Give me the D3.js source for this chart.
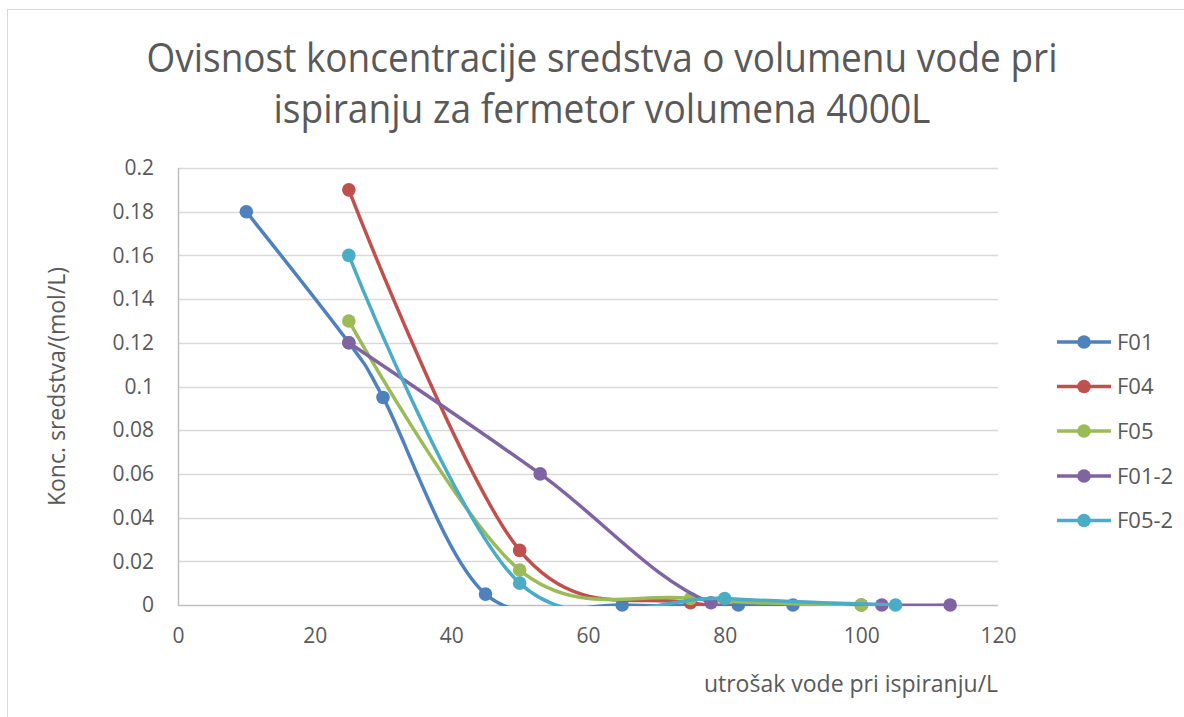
<!DOCTYPE html>
<html>
<head>
<meta charset="utf-8">
<script src="https://cdn.jsdelivr.net/npm/d3@7"></script>
<style>
  html, body { margin: 0; padding: 0; background: #ffffff; }
  svg { display: block; }
  text { font-family: "Open Sans", "Liberation Sans", sans-serif; fill: #595959; }
</style>
</head>
<body>
<svg id="chart" width="1184" height="717"></svg>
<script>
// ---- data ----
const titleLines = ["Ovisnost koncentracije sredstva o volumenu vode pri", "ispiranju za fermetor volumena 4000L"];
const xTitle = "utrošak vode pri ispiranju/L";
const yTitle = "Konc. sredstva/(mol/L)";
const seriesNames = ["F01", "F04", "F05", "F01-2", "F05-2"];
const seriesColors = ["#4F81BD", "#C0504D", "#9BBB59", "#8064A2", "#4BACC6"];
const f01X = [10, 25, 30, 45, 65, 82, 90];
const f01Y = [0.18, 0.12, 0.095, 0.005, 0, 0, 0];
const f04X = [25, 50, 75, 100];
const f04Y = [0.19, 0.025, 0.001, 0];
const f05X = [25, 50, 75, 100];
const f05Y = [0.13, 0.016, 0.003, 0];
const f012X = [25, 53, 78, 103, 113];
const f012Y = [0.12, 0.06, 0.001, 0, 0];
const f052X = [25, 50, 80, 105];
const f052Y = [0.16, 0.01, 0.003, 0];
const xTicks = [0, 20, 40, 60, 80, 100, 120];
const yTicks = [0, 0.02, 0.04, 0.06, 0.08, 0.1, 0.12, 0.14, 0.16, 0.18, 0.2];
const yTickLabels = ["0", "0.02", "0.04", "0.06", "0.08", "0.1", "0.12", "0.14", "0.16", "0.18", "0.2"];

const seriesX = [f01X, f04X, f05X, f012X, f052X];
const seriesY = [f01Y, f04Y, f05Y, f012Y, f052Y];
const series = seriesNames.map((n, i) => ({
  name: n, color: seriesColors[i],
  pts: seriesX[i].map((x, j) => ({ x: x, y: seriesY[i][j] }))
}));

// ---- layout ----
const svg = d3.select("#chart");
const plot = { left: 178, right: 998, top: 168, bottom: 605 };

// outer chart border
svg.append("rect").attr("x", 7.5).attr("y", 9.5).attr("width", 1200).attr("height", 720)
  .attr("fill", "#ffffff").attr("stroke", "#d9d9d9").attr("stroke-width", 1);

const x = d3.scaleLinear().domain([0, 120]).range([plot.left, plot.right]);
const y = d3.scaleLinear().domain([0, 0.2]).range([plot.bottom, plot.top]);

// gridlines
svg.append("g").selectAll("line").data(yTicks.filter(d => d > 0)).join("line")
  .attr("x1", plot.left).attr("x2", plot.right)
  .attr("y1", d => Math.round(y(d)) + 0.5).attr("y2", d => Math.round(y(d)) + 0.5)
  .attr("stroke", "#d9d9d9").attr("stroke-width", 1.5);

// axes lines
svg.append("line").attr("x1", plot.left + 0.5).attr("x2", plot.left + 0.5)
  .attr("y1", Math.round(y(0.2))).attr("y2", plot.bottom + 0.5)
  .attr("stroke", "#bfbfbf").attr("stroke-width", 1.5);
svg.append("line").attr("x1", plot.left).attr("x2", plot.right)
  .attr("y1", plot.bottom + 0.5).attr("y2", plot.bottom + 0.5)
  .attr("stroke", "#bfbfbf").attr("stroke-width", 1.5);

// tick labels via d3 axes (domain/ticks hidden)
const yAxis = d3.axisLeft(y).tickValues(yTicks).tickSize(0).tickPadding(0)
  .tickFormat((d, i) => yTickLabels[i]);
const gy = svg.append("g").attr("transform", `translate(${plot.left - 24},0)`).call(yAxis);
gy.select(".domain").remove();
gy.selectAll("text").style("font-family", '"Open Sans", sans-serif').style("font-size", "21px")
  .attr("fill", "#595959");

const xAxis = d3.axisBottom(x).tickValues(xTicks).tickSize(0).tickPadding(0).tickFormat(d3.format("d"));
const gx = svg.append("g").attr("transform", `translate(0,${plot.bottom + 23})`).call(xAxis);
gx.select(".domain").remove();
gx.selectAll("text").style("font-family", '"Open Sans", sans-serif').style("font-size", "21px")
  .attr("fill", "#595959");

// clip for lines
svg.append("clipPath").attr("id", "plotclip").append("rect")
  .attr("x", plot.left - 20).attr("y", plot.top - 30)
  .attr("width", plot.right - plot.left + 40).attr("height", plot.bottom - plot.top + 31);

const line = d3.line().x(d => x(d.x)).y(d => y(d.y)).curve(d3.curveCardinal.tension(0));

const gs = svg.append("g");
series.forEach(s => {
  gs.append("path").datum(s.pts).attr("d", line)
    .attr("fill", "none").attr("stroke", s.color).attr("stroke-width", 3.5)
    .attr("stroke-linejoin", "round").attr("clip-path", "url(#plotclip)");
  gs.append("g").selectAll("circle").data(s.pts).join("circle")
    .attr("cx", d => x(d.x)).attr("cy", d => y(d.y)).attr("r", 6.8)
    .attr("fill", s.color);
});

// title
svg.append("g").selectAll("text").data(titleLines).join("text")
  .attr("x", 602).attr("y", (d, i) => 72 + i * 51)
  .attr("text-anchor", "middle")
  .style("font-size", "40px")
  .attr("textLength", (d, i) => i === 0 ? 911 : 657)
  .attr("lengthAdjust", "spacingAndGlyphs")
  .text(d => d);

// axis titles
svg.append("text").attr("x", 851).attr("y", 692).attr("text-anchor", "middle")
  .style("font-size", "23px").text(xTitle);
svg.append("text").attr("transform", `translate(65,${(plot.top + plot.bottom) / 2}) rotate(-90)`)
  .attr("text-anchor", "middle").style("font-size", "23px").text(yTitle);

// legend
const legY = [342, 386.5, 431, 476, 520.5];
const leg = svg.append("g").selectAll("g").data(series).join("g")
  .attr("transform", (d, i) => `translate(0,${legY[i]})`);
leg.append("line").attr("x1", 1057).attr("x2", 1111).attr("y1", 0).attr("y2", 0)
  .attr("stroke", d => d.color).attr("stroke-width", 3.5);
leg.append("circle").attr("cx", 1084).attr("cy", 0).attr("r", 6.8).attr("fill", d => d.color);
leg.append("text").attr("x", 1117).attr("y", 0).attr("dy", "0.35em")
  .style("font-size", "22px").text(d => d.name);
</script>
</body>
</html>
